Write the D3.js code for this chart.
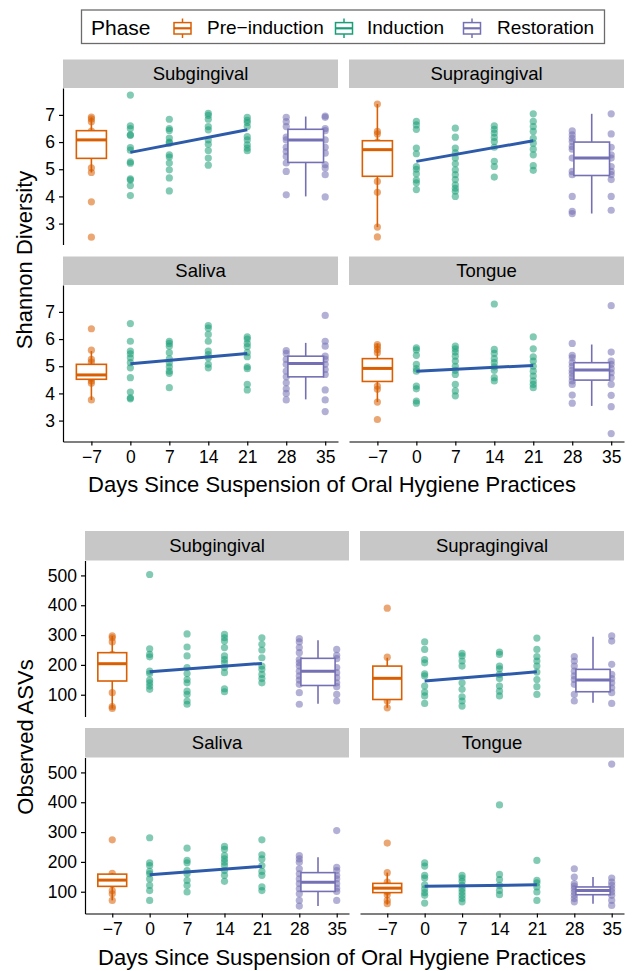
<!DOCTYPE html>
<html>
<head>
<meta charset="utf-8">
<script src="https://cdn.jsdelivr.net/npm/d3@7/dist/d3.min.js"></script>
<style>
  body { margin: 0; background: #fff; }
  svg text { font-family: "Liberation Sans", Arial, Helvetica, sans-serif; fill: #000; }
</style>
</head>
<body>
<div id="chart"></div>
<script>
// categories
var days = [-7, 0, 7, 14, 21, 28, 35];
var phases = ["Pre\u2212induction", "Induction", "Restoration"];
var sites = ["Subgingival", "Supragingival", "Saliva", "Tongue"];
var shannonTicks = [3, 4, 5, 6, 7];
var asvTicks = [100, 200, 300, 400, 500];

// Shannon diversity, points per day (-7, 0, 7, 14, 21, 28, 35)
var shSub = [
  [6.92, 6.85, 6.75, 6.4, 6.2, 6.1, 6.05, 5.8, 5.5, 5.05, 4.88, 3.8, 2.5],
  [7.73, 6.6, 6.5, 6.27, 6.25, 5.8, 5.7, 5.27, 5.22, 4.65, 4.6, 4.4, 4.03],
  [6.84, 6.5, 6.43, 6.15, 6.0, 5.96, 5.53, 5.45, 5.23, 4.98, 4.68, 4.2],
  [7.06, 6.98, 6.84, 6.57, 6.45, 6.08, 5.92, 5.69, 5.41, 5.15],
  [6.91, 6.8, 6.72, 6.57, 6.2, 6.08, 5.9, 5.78, 5.68],
  [6.91, 6.75, 6.57, 6.18, 6.08, 5.81, 5.65, 5.47, 5.23, 4.92, 4.06],
  [6.96, 6.91, 6.5, 6.42, 6.08, 5.81, 5.59, 5.17, 5.05, 4.8, 3.98]
];
var shSupra = [
  [7.4, 6.39, 6.3, 6.0, 5.9, 5.72, 5.5, 5.0, 4.55, 4.15, 2.87, 2.51],
  [6.76, 6.63, 6.47, 5.78, 5.57, 5.1, 5.0, 4.83, 4.6, 4.5, 4.25],
  [6.51, 6.18, 5.78, 5.6, 5.41, 5.2, 4.98, 4.8, 4.62, 4.43, 4.3, 4.19, 4.0],
  [6.6, 6.47, 6.33, 6.17, 6.02, 5.81, 5.29, 5.1, 4.71],
  [7.04, 6.76, 6.57, 6.39, 6.14, 5.96, 5.74, 5.53, 5.13, 4.96],
  [6.41, 6.27, 6.14, 6.02, 5.84, 5.74, 5.41, 4.92, 4.8, 4.0, 3.45, 3.37],
  [7.04, 6.3, 5.81, 5.53, 5.41, 5.1, 4.92, 4.8, 4.62, 4.0, 3.49]
];
var shSaliva = [
  [6.38, 5.59, 5.25, 5.15, 4.9, 4.7, 4.6, 4.55, 4.46, 4.37, 3.76],
  [6.57, 5.92, 5.56, 5.46, 5.31, 5.13, 4.94, 4.58, 4.05, 3.84, 3.8],
  [5.92, 5.84, 5.74, 5.5, 5.27, 5.13, 4.98, 4.82, 4.74, 4.21],
  [6.5, 6.4, 6.17, 5.92, 5.56, 5.43, 5.31, 5.07, 4.94],
  [6.08, 6.0, 5.84, 5.72, 5.5, 5.35, 4.98, 4.91, 4.33, 4.13],
  [5.58, 5.47, 5.25, 5.07, 4.82, 4.61, 4.39, 4.17, 4.0, 3.76],
  [6.87, 5.92, 5.74, 5.37, 5.25, 5.07, 4.88, 4.7, 4.13, 3.76, 3.33]
];
var shTongue = [
  [5.8, 5.72, 5.62, 5.5, 5.1, 4.9, 4.8, 4.6, 4.27, 4.15, 3.68, 3.04],
  [5.68, 5.6, 5.4, 5.07, 4.91, 4.82, 4.27, 4.17, 3.72, 3.64],
  [5.74, 5.64, 5.52, 5.37, 5.19, 5.0, 4.85, 4.7, 4.33, 4.09, 3.91],
  [7.29, 5.62, 5.47, 5.28, 5.13, 4.98, 4.85, 4.58, 4.46],
  [6.08, 5.64, 5.35, 5.19, 5.0, 4.82, 4.64, 4.46, 4.33, 4.21],
  [5.84, 5.4, 5.31, 5.13, 5.0, 4.85, 4.74, 4.6, 4.46, 4.33, 3.94, 3.64],
  [7.23, 5.52, 5.19, 5.07, 4.91, 4.76, 4.58, 4.33, 3.93, 3.51, 2.52]
];
// box stats [lower whisker, q1, median, q3, upper whisker] per site
var shPreBox = [[4.88, 5.4, 6.08, 6.42, 6.91], [2.87, 4.74, 5.72, 6.05, 7.4], [3.76, 4.52, 4.68, 5.07, 5.56], [3.68, 4.44, 4.92, 5.28, 5.83]];
var shRestBox = [[4.0, 5.25, 6.08, 6.47, 6.94], [3.37, 4.77, 5.41, 6.0, 7.04], [3.78, 4.61, 5.1, 5.37, 5.86], [3.54, 4.49, 4.86, 5.13, 5.8]];
// fitted line over induction, value at day 0 and day 21
var shTrend = [[5.62, 6.45], [5.29, 6.05], [5.09, 5.47], [4.82, 5.03]];

// Observed ASVs
var asvSub = [
  [297, 291, 277, 235, 215, 204, 190, 165, 107, 60, 54],
  [503, 254, 235, 227, 179, 171, 149, 140, 129, 118],
  [304, 260, 230, 191, 171, 151, 140, 112, 101, 79, 68],
  [302, 291, 280, 258, 230, 218, 207, 191, 174, 120, 110],
  [291, 269, 250, 224, 196, 185, 168, 154, 140],
  [288, 277, 258, 241, 218, 207, 196, 179, 163, 149, 135, 107, 68],
  [252, 232, 221, 191, 174, 157, 140, 127, 101, 79]
];
var asvSupra = [
  [390, 226, 185, 160, 140, 110, 79, 56],
  [277, 252, 218, 207, 170, 163, 129, 109, 96, 71],
  [239, 230, 213, 196, 140, 118, 93, 79, 62],
  [243, 235, 196, 187, 168, 154, 129, 112, 96],
  [290, 252, 228, 213, 196, 176, 151, 127, 101],
  [228, 213, 196, 179, 163, 151, 135, 101, 79],
  [297, 280, 202, 168, 154, 140, 123, 107, 71]
];
var asvSaliva = [
  [274, 162, 150, 140, 132, 125, 104, 93, 71],
  [281, 197, 188, 168, 160, 143, 121, 104, 71],
  [246, 205, 197, 171, 160, 138, 121, 99],
  [252, 242, 221, 210, 199, 188, 171, 155, 135],
  [274, 224, 210, 188, 168, 155, 116, 104],
  [221, 210, 199, 177, 160, 143, 127, 110, 93, 71, 52],
  [305, 182, 171, 155, 143, 127, 112, 101, 71]
];
var asvTongue = [
  [263, 164, 132, 120, 112, 105, 100, 90, 71, 60],
  [197, 186, 155, 146, 123, 110, 97, 88, 62],
  [155, 146, 135, 121, 110, 99, 88, 77, 66],
  [391, 158, 141, 121, 104, 90],
  [205, 138, 130, 116, 99, 71],
  [177, 149, 127, 119, 110, 99, 88, 77, 66],
  [528, 146, 132, 121, 110, 99, 88, 71, 54]
];
var asvPreBox = [[54, 146, 204, 241, 297], [56, 84, 155, 196, 224], [71, 118, 139, 159, 163], [57, 97, 112, 128, 164]];
var asvRestBox = [[70, 131, 179, 222, 283], [73, 110, 149, 185, 294], [52, 101, 132, 164, 216], [60, 90, 104, 116, 149]];
var asvTrend = [[177, 205], [146, 177], [157, 185], [118, 123]];

var colors = ["#D95F02", "#1B9E77", "#7570B3"];
var trendColor = "#2d5ba9";
var stripFill = "#c6c7c6";

var fw = 632, fh = 971;
var svg = d3.select("#chart").append("svg")
    .attr("width", fw)
    .attr("height", fh);

function dayPhase(i) {
  if (i == 0) return 0;
  if (i >= 5) return 2;
  return 1;
}

function fmtDay(d) {
  return d < 0 ? "\u2212" + Math.abs(d) : "" + d;
}

function drawPlot(p) {
  var x = d3.scaleLinear().domain([-12.1, 37.3]).range([0, p.pw]);
  var y = d3.scaleLinear().domain(p.ydom).range([p.ph, 0]);

  sites.forEach(function(site, si) {
    var col = si % 2, row = Math.floor(si / 2);
    var left = p.cols[col], top = p.rows[row];
    var g = svg.append("g").attr("transform", "translate(" + left + "," + top + ")");

    // strip
    g.append("rect")
      .attr("x", 0).attr("y", 0)
      .attr("width", p.pw).attr("height", p.sh)
      .attr("fill", stripFill);
    g.append("text")
      .attr("x", p.pw / 2).attr("y", p.sh / 2 + 6.5)
      .attr("text-anchor", "middle")
      .style("font-size", "18.5px")
      .text(site);

    var pg = g.append("g").attr("transform", "translate(0," + p.sh + ")");
    var pts = p.points[si];

    // points
    pts.forEach(function(vals, di) {
      pg.selectAll(null)
        .data(vals)
        .enter().append("circle")
        .attr("cx", x(days[di]))
        .attr("cy", function(d) { return y(d); })
        .attr("r", 3.6)
        .attr("fill", colors[dayPhase(di)])
        .attr("fill-opacity", 0.55);
    });

    // trend line over induction
    var tr = p.trend[si];
    pg.append("line")
      .attr("x1", x(days[1])).attr("y1", y(tr[0]))
      .attr("x2", x(days[4])).attr("y2", y(tr[1]))
      .attr("stroke", trendColor)
      .attr("stroke-width", 3);

    // boxes
    var boxes = [
      { s: p.preBox[si], c: days[0], w: 5.4, col: colors[0] },
      { s: p.restBox[si], c: (days[5] + days[6]) / 2, w: 6.4, col: colors[2] }
    ];
    boxes.forEach(function(b) {
      var cx = x(b.c);
      pg.append("line")
        .attr("x1", cx).attr("x2", cx)
        .attr("y1", y(b.s[0])).attr("y2", y(b.s[4]))
        .attr("stroke", b.col).attr("stroke-width", 1.6);
      pg.append("rect")
        .attr("x", x(b.c - b.w / 2))
        .attr("width", x(b.c + b.w / 2) - x(b.c - b.w / 2))
        .attr("y", y(b.s[3]))
        .attr("height", y(b.s[1]) - y(b.s[3]))
        .attr("fill", "#fff")
        .attr("stroke", b.col).attr("stroke-width", 1.6);
      pg.append("line")
        .attr("x1", x(b.c - b.w / 2)).attr("x2", x(b.c + b.w / 2))
        .attr("y1", y(b.s[2])).attr("y2", y(b.s[2]))
        .attr("stroke", b.col).attr("stroke-width", 3);
    });

    // axes only on outer panels
    if (col == 0) {
      var ya = pg.append("g")
        .call(d3.axisLeft(y).tickValues(p.yticks).tickFormat(d3.format("d"))
          .tickSize(4).tickSizeOuter(0).tickPadding(4));
      ya.selectAll("text").style("font-size", "17.5px");
      ya.selectAll("path, line").attr("stroke", "#000").attr("stroke-width", 1.2);
    }
    if (row == 1) {
      var xa = pg.append("g")
        .attr("transform", "translate(0," + p.ph + ")")
        .call(d3.axisBottom(x).tickValues(days).tickFormat(fmtDay)
          .tickSize(4).tickSizeOuter(0).tickPadding(5));
      xa.selectAll("text").style("font-size", "17.5px");
      xa.selectAll("path, line").attr("stroke", "#000").attr("stroke-width", 1.2);
    }
  });

  svg.append("text")
    .attr("x", p.xtx).attr("y", p.xty)
    .attr("text-anchor", "middle")
    .style("font-size", "22px")
    .text("Days Since Suspension of Oral Hygiene Practices");

  svg.append("text")
    .attr("transform", "translate(" + p.ytx + "," + p.yty + ") rotate(-90)")
    .attr("text-anchor", "middle")
    .style("font-size", "22px")
    .text(p.ytitle);
}

drawPlot({
  cols: [63, 349], rows: [59.5, 256.5], pw: 275, sh: 28.5, ph: 156.5,
  ydom: [2.23, 7.99], yticks: shannonTicks,
  points: [shSub, shSupra, shSaliva, shTongue],
  preBox: shPreBox, restBox: shRestBox, trend: shTrend,
  xtx: 332, xty: 492, ytx: 32, yty: 260, ytitle: "Shannon Diversity"
});

drawPlot({
  cols: [85, 360], rows: [531, 728], pw: 264, sh: 29.5, ph: 156,
  ydom: [27, 550], yticks: asvTicks,
  points: [asvSub, asvSupra, asvSaliva, asvTongue],
  preBox: asvPreBox, restBox: asvRestBox, trend: asvTrend,
  xtx: 342, xty: 965, ytx: 33, yty: 737, ytitle: "Observed ASVs"
});

// legend
var leg = svg.append("g");
leg.append("rect")
  .attr("x", 81.5).attr("y", 10)
  .attr("width", 523).attr("height", 33.5)
  .attr("fill", "#fff")
  .attr("stroke", "#6b6b6b").attr("stroke-width", 1.3);
leg.append("text")
  .attr("x", 91).attr("y", 34.5)
  .style("font-size", "21px")
  .text("Phase");

var keyX = [174, 335.5, 463.5];
var labX = [207, 367, 497];
phases.forEach(function(ph, i) {
  var kx = keyX[i];
  leg.append("line")
    .attr("x1", kx + 8.5).attr("x2", kx + 8.5)
    .attr("y1", 18.5).attr("y2", 38)
    .attr("stroke", colors[i]).attr("stroke-width", 1.5);
  leg.append("rect")
    .attr("x", kx).attr("y", 22.6)
    .attr("width", 17).attr("height", 11.4)
    .attr("fill", "#fff")
    .attr("stroke", colors[i]).attr("stroke-width", 1.5);
  leg.append("line")
    .attr("x1", kx).attr("x2", kx + 17)
    .attr("y1", 28.3).attr("y2", 28.3)
    .attr("stroke", colors[i]).attr("stroke-width", 2.2);
  leg.append("text")
    .attr("x", labX[i]).attr("y", 34)
    .style("font-size", "19px")
    .text(ph);
});
</script>
</body>
</html>
